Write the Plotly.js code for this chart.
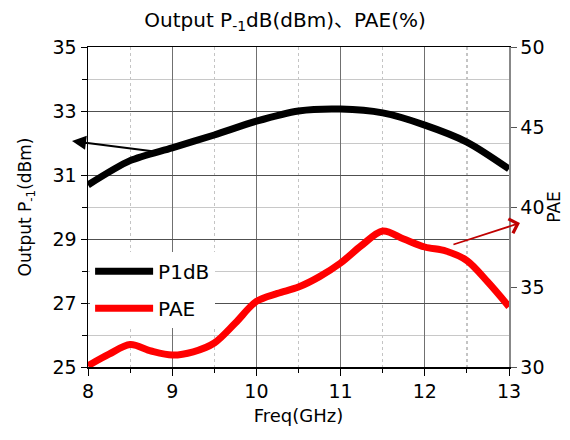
<!DOCTYPE html>
<html>
<head>
<meta charset="utf-8">
<script src="https://cdn.plot.ly/plotly-3.0.1.min.js"></script>
<style>html,body{margin:0;padding:0;background:#fff;}#chart{width:570px;height:440px;}</style>
</head>
<body>
<div id="chart"></div>
<script>
// Data
const freqP1dB = [8, 8.5, 9, 9.5, 10, 10.5, 11, 11.5, 12, 12.5, 13];
const p1dB     = [30.69, 31.45, 31.85, 32.25, 32.68, 33.0, 33.06, 32.94, 32.56, 32.03, 31.19];

const freqPAE = [8, 8.25, 8.5, 8.75, 9, 9.25, 9.5, 9.75, 10, 10.25, 10.5, 10.75, 11, 11.25, 11.5, 11.75, 12, 12.25, 12.5, 12.75, 13];
const pae     = [30.08, 30.8, 31.4, 31.0, 30.75, 30.95, 31.5, 32.75, 34.1, 34.6, 35.0, 35.65, 36.5, 37.6, 38.5, 38.0, 37.5, 37.25, 36.65, 35.3, 33.77];

const FONT = "'DejaVu Sans', 'Noto Sans CJK SC', sans-serif";

const traces = [
  {x: freqP1dB, y: p1dB, name: 'P1dB', type: 'scatter', mode: 'lines',
   line: {color: '#000000', width: 7, shape: 'spline', smoothing: 0.8}, yaxis: 'y', legendgroup: 'a'},
  {x: freqPAE, y: pae, name: 'PAE', type: 'scatter', mode: 'lines',
   line: {color: '#ff0000', width: 7, shape: 'spline', smoothing: 0.9}, yaxis: 'y2', legendgroup: 'b'}
];

const layout = {
  width: 570, height: 440,
  margin: {l: 88, r: 61, t: 47, b: 73, pad: 0},
  paper_bgcolor: '#ffffff', plot_bgcolor: '#ffffff',
  font: {family: FONT, size: 19, color: '#000'},
  title: {text: 'Output P<sub>-1</sub>dB(dBm)、PAE(%)', x: 0.5, xanchor: 'center', y: 0.955, yanchor: 'middle',
          font: {family: FONT, size: 20, color: '#000'}},
  showlegend: true,
  legend: {x: 0.005, y: 0.36, xanchor: 'left', yanchor: 'top', bgcolor: '#ffffff', borderwidth: 0,
           itemwidth: 58,
           font: {family: FONT, size: 20, color: '#000'}, traceorder: 'grouped', tracegroupgap: 8},
  xaxis: {
    range: [8, 13], tick0: 8, dtick: 1, ticks: 'outside', ticklen: 7, tickcolor: '#000', tickwidth: 1,
    showline: true, linecolor: '#000', linewidth: 1.5, mirror: true,
    showgrid: true, gridcolor: '#707070', gridwidth: 1, zeroline: false,
    minor: {dtick: 0.5, showgrid: true, gridcolor: '#c4c4c4', griddash: 'dot', gridwidth: 1.2, ticks: 'outside', ticklen: 4, tickcolor: '#000'},
    tickfont: {family: FONT, size: 19},
    title: {text: 'Freq(GHz)', standoff: 8, font: {family: FONT, size: 18}}
  },
  yaxis: {
    range: [25, 35], tick0: 25, dtick: 2, ticks: 'outside', ticklen: 6, tickcolor: '#000',
    showline: true, linecolor: '#000', linewidth: 1.5,
    showgrid: true, gridcolor: '#505050', gridwidth: 1, zeroline: false,
    minor: {dtick: 1, showgrid: true, gridcolor: '#c8c8c8', gridwidth: 1, ticks: 'outside', ticklen: 5, tickcolor: '#000'},
    tickfont: {family: FONT, size: 19},
    title: {text: 'Output P<sub>-1</sub>(dBm)', standoff: 16, font: {family: FONT, size: 17}}
  },
  yaxis2: {
    range: [30, 50], tick0: 30, dtick: 5, overlaying: 'y', side: 'right',
    ticks: 'outside', ticklen: 6, tickcolor: '#555',
    showline: true, linecolor: '#888', linewidth: 1.5, showgrid: false, zeroline: false,
    tickfont: {family: FONT, size: 19},
    title: {text: 'PAE', standoff: 4, font: {family: FONT, size: 17}}
  },
  annotations: [
    {xref: 'paper', yref: 'paper', x: -0.038, y: 0.706, ax: 88, ay: 11, axref: 'pixel', ayref: 'pixel',
     text: '', showarrow: true, arrowhead: 2, arrowsize: 1.4, arrowwidth: 2, arrowcolor: '#000'},
    {xref: 'paper', yref: 'paper', x: 1.026, y: 0.45, ax: -68, ay: 22, axref: 'pixel', ayref: 'pixel',
     text: '', showarrow: true, arrowhead: 4, arrowsize: 1.6, arrowwidth: 1.8, arrowcolor: '#c00000'}
  ]
};

Plotly.newPlot('chart', traces, layout, {displayModeBar: false, staticPlot: true});
</script>
</body>
</html>
